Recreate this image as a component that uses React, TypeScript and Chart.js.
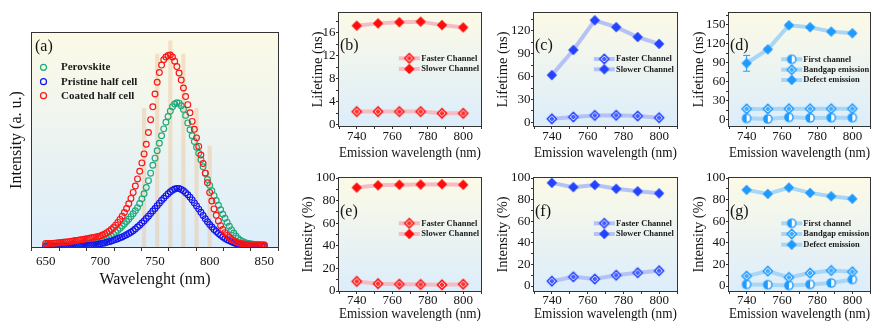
import React, { useEffect, useRef } from 'react';
import { Chart, registerables } from 'chart.js';

Chart.register(...registerables);

const SERIF = '"Liberation Serif", "Times New Roman", Times, serif';
const TEXT = '#141414';
const AXIS = '#333333';

// ---------- Panel (a): PL spectra ----------
const wavelengths = [
  650, 652, 654, 656, 658, 660, 662, 664, 666, 668,
  670, 672, 674, 676, 678, 680, 682, 684, 686, 688,
  690, 692, 694, 696, 698, 700, 702, 704, 706, 708,
  710, 712, 714, 716, 718, 720, 722, 724, 726, 728,
  730, 732, 734, 736, 738, 740, 742, 744, 746, 748,
  750, 752, 754, 756, 758, 760, 762, 764, 766, 768,
  770, 772, 774, 776, 778, 780, 782, 784, 786, 788,
  790, 792, 794, 796, 798, 800, 802, 804, 806, 808,
  810, 812, 814, 816, 818, 820, 822, 824, 826, 828,
  830, 832, 834, 836, 838, 840, 842, 844, 846, 848,
  850,
];
const perovskite = [
  0.7, 0.7, 0.7, 0.7, 0.8, 0.8, 0.8, 0.9, 0.9, 1.0,
  1.0, 1.1, 1.1, 1.2, 1.3, 1.4, 1.5, 1.6, 1.7, 1.8,
  1.9, 2.0, 2.1, 2.3, 2.4, 2.6, 2.9, 3.3, 3.8, 4.4,
  5.1, 5.9, 6.8, 7.8, 8.8, 9.8, 10.8, 11.9, 13.0, 14.2,
  15.5, 16.9, 18.4, 20.3, 22.5, 24.9, 27.8, 31.0, 34.5, 38.2,
  41.5, 45.0, 48.5, 52.0, 55.2, 58.3, 61.0, 63.5, 65.5, 66.8,
  67.4, 67.2, 66.0, 64.3, 61.5, 58.0, 54.8, 52.0, 49.3, 46.6,
  43.8, 40.8, 37.5, 34.5, 31.5, 28.8, 26.3, 24.0, 21.7, 19.5,
  17.4, 15.3, 13.4, 11.5, 9.7, 8.0, 6.5, 5.1, 4.0, 3.2,
  2.6, 2.1, 1.8, 1.6, 1.4, 1.3, 1.2, 1.1, 1.1, 1.0,
  1.0,
];
const pristineHalfCell = [
  0.2, 0.2, 0.2, 0.2, 0.2, 0.2, 0.3, 0.3, 0.3, 0.3,
  0.4, 0.4, 0.4, 0.5, 0.5, 0.5, 0.6, 0.6, 0.7, 0.7,
  0.8, 0.9, 1.0, 1.1, 1.3, 1.5, 1.7, 1.9, 2.2, 2.5,
  2.8, 3.1, 3.5, 3.9, 4.3, 4.7, 5.2, 5.7, 6.3, 6.9,
  7.6, 8.4, 9.3, 10.2, 11.2, 12.2, 13.3, 14.4, 15.6, 16.8,
  18.0, 19.3, 20.5, 21.7, 22.8, 23.9, 24.9, 25.8, 26.5, 27.1,
  27.4, 27.3, 26.9, 26.3, 25.4, 24.4, 23.3, 22.0, 20.6, 19.2,
  17.7, 16.2, 14.7, 13.2, 11.8, 10.5, 9.3, 8.2, 7.2, 6.3,
  5.5, 4.7, 4.0, 3.4, 2.9, 2.4, 2.0, 1.6, 1.3, 1.1,
  0.9, 0.8, 0.7, 0.6, 0.5, 0.5, 0.4, 0.4, 0.4, 0.3,
  0.3,
];
const coatedHalfCell = [
  1.6, 1.6, 1.7, 1.7, 1.8, 1.9, 2.0, 2.1, 2.2, 2.3,
  2.4, 2.6, 2.7, 2.9, 3.0, 3.2, 3.4, 3.5, 3.7, 3.9,
  4.1, 4.3, 4.5, 4.7, 4.9, 5.2, 5.6, 6.1, 6.7, 7.4,
  8.2, 9.1, 10.2, 11.5, 12.9, 14.4, 16.1, 18.0, 20.2, 22.7,
  25.5, 28.5, 31.8, 35.4, 39.3, 43.5, 48.0, 53.5, 59.5, 65.5,
  71.5, 77.0, 81.5, 85.0, 87.5, 88.8, 89.5, 89.7, 88.8, 86.8,
  84.3, 81.3, 78.0, 74.3, 70.3, 66.5, 62.7, 58.7, 55.0, 51.0,
  47.0, 43.0, 39.0, 34.5, 30.0, 25.5, 21.5, 17.8, 14.8, 12.2,
  10.0, 8.2, 6.7, 5.4, 4.4, 3.5, 2.9, 2.4, 2.0, 1.7,
  1.5, 1.3, 1.2, 1.1, 1.0, 1.0, 1.0, 0.9, 0.9, 0.9,
  0.9,
];
const barWavelengths = [740, 752, 764, 776, 788, 800];
const barHeights = [64.8, 90.2, 96.3, 90.2, 64.8, 47.2];
const xTicksA = [650, 700, 750, 800, 850];
const legendA = ['Perovskite', 'Pristine half cell', 'Coated half cell'];

// ---------- Panels (b)-(g) ----------
const emissionWl = [740, 752, 764, 776, 788, 800];
const xTicksEmission = [740, 760, 780, 800];

const lifetimeFasterB = [2.3, 2.3, 2.3, 2.3, 2.0, 2.0];
const lifetimeSlowerB = [17.2, 17.6, 17.8, 17.9, 17.3, 16.9];

const lifetimeFasterC = [4.5, 7.0, 9.0, 9.2, 8.2, 6.0];
const lifetimeSlowerC = [62, 95, 134, 125, 112, 103];

const lifetimeFirstD = [2.6, 1.6, 4.2, 3.2, 3.7, 3.7];
const lifetimeBandgapD = [17.5, 17.5, 17.8, 17.8, 17.8, 17.8];
const lifetimeDefectD = [89.5, 111.5, 149.5, 146.5, 139.5, 137.0];
const lifetimeDefectErrD = [12.5, 2, 2, 2, 2, 2];

const intensityFasterE = [8.5, 6.5, 6.0, 5.8, 5.5, 6.0];
const intensitySlowerE = [91.5, 93.5, 94.0, 94.2, 94.5, 94.0];

const intensityFasterF = [4.5, 8.5, 6.5, 10.0, 12.3, 14.2];
const intensitySlowerF = [95.5, 91.5, 93.5, 90.0, 87.7, 85.8];

const intensityFirstG = [1.5, 1.2, 0.6, 1.5, 2.8, 6.1];
const intensityBandgapG = [9.2, 13.8, 8.0, 12.0, 14.4, 13.2];
const intensityDefectG = [89.0, 85.3, 91.1, 86.2, 83.1, 80.7];

// ---------- Styles ----------
const RED = '#ff0d0d';
const RED_LINE = '#f6bcc4';
const BLUE = '#2343ff';
const BLUE_LINE = '#b5c2f6';
const SKY = '#1f9bff';
const SKY_LINE = '#a8d6f6';
const A_GREEN = '#1ea97a';
const A_BLUE = '#1414ee';
const A_RED = '#ff1414';
const BAR_COLOR = 'rgba(236, 190, 145, 0.42)';

type MarkerKind = 'diamond' | 'hollowDiamond' | 'halfCircle';

function makeMarker(kind: MarkerKind, color: string): HTMLCanvasElement {
  const size = 14;
  const c = document.createElement('canvas');
  c.width = size;
  c.height = size;
  const ctx = c.getContext('2d') as CanvasRenderingContext2D;
  const cx = size / 2;
  const cy = size / 2;
  ctx.fillStyle = color;
  ctx.strokeStyle = color;
  if (kind === 'diamond') {
    const r = 5.2;
    ctx.beginPath();
    ctx.moveTo(cx, cy - r);
    ctx.lineTo(cx + r, cy);
    ctx.lineTo(cx, cy + r);
    ctx.lineTo(cx - r, cy);
    ctx.closePath();
    ctx.fill();
  } else if (kind === 'hollowDiamond') {
    const r = 4.6;
    ctx.beginPath();
    ctx.moveTo(cx, cy - r);
    ctx.lineTo(cx + r, cy);
    ctx.lineTo(cx, cy + r);
    ctx.lineTo(cx - r, cy);
    ctx.closePath();
    ctx.fillStyle = '#ffffff';
    ctx.fill();
    ctx.lineWidth = 1.5;
    ctx.stroke();
    ctx.lineWidth = 1;
    ctx.beginPath();
    ctx.arc(cx, cy, 1.5, 0, Math.PI * 2);
    ctx.stroke();
    ctx.beginPath();
    ctx.moveTo(cx - 2.2, cy);
    ctx.lineTo(cx + 2.2, cy);
    ctx.moveTo(cx, cy - 2.2);
    ctx.lineTo(cx, cy + 2.2);
    ctx.stroke();
  } else {
    const r = 4.8;
    ctx.beginPath();
    ctx.arc(cx, cy, r, 0, Math.PI * 2);
    ctx.fill();
    const ri = r - 1.4;
    ctx.fillStyle = '#ffffff';
    ctx.beginPath();
    ctx.moveTo(cx, cy - ri);
    ctx.arc(cx, cy, ri, -Math.PI / 2, Math.PI / 2);
    ctx.closePath();
    ctx.fill();
  }
  return c;
}

const bgPlugin = {
  id: 'panelBg',
  beforeDraw(chart: any) {
    const { ctx, chartArea: a } = chart;
    const g = ctx.createLinearGradient(0, a.top, 0, a.bottom);
    g.addColorStop(0, '#fcfae6');
    g.addColorStop(1, '#dcedfb');
    ctx.save();
    ctx.fillStyle = g;
    ctx.fillRect(a.left, a.top, a.right - a.left, a.bottom - a.top);
    ctx.restore();
  },
};

const framePlugin = {
  id: 'panelFrame',
  afterDraw(chart: any) {
    const { ctx, chartArea: a } = chart;
    ctx.save();
    ctx.strokeStyle = AXIS;
    ctx.lineWidth = 1;
    ctx.strokeRect(a.left - 0.5, a.top - 0.5, a.right - a.left + 1, a.bottom - a.top + 1);
    ctx.restore();
  },
};

interface Box { left: number; top: number; width: number; height: number }
interface Area { l: number; t: number; r: number; b: number }

// ---------- Panel (a) config ----------
const boxA: Box = { left: 0, top: 0, width: 292, height: 300 };
const areaA: Area = { l: 32, t: 33, r: 278, b: 247 };

function configA(): any {
  const box = boxA;
  const area = areaA;
  const spectra = [
    { label: legendA[0], values: perovskite, color: A_GREEN, order: 3 },
    { label: legendA[1], values: pristineHalfCell, color: A_BLUE, order: 2 },
    { label: legendA[2], values: coatedHalfCell, color: A_RED, order: 1 },
  ];
  const legendPlugin = {
    id: 'legendA',
    afterDraw(chart: any) {
      const ctx = chart.ctx;
      ctx.save();
      const ys = [67.3, 81.7, 95.7];
      spectra.forEach((s, i) => {
        ctx.strokeStyle = s.color;
        ctx.lineWidth = 1.2;
        ctx.beginPath();
        ctx.arc(43.5 - box.left, ys[i] - box.top, 3, 0, Math.PI * 2);
        ctx.stroke();
        ctx.fillStyle = '#1a1a1a';
        ctx.font = `bold 11px ${SERIF}`;
        ctx.textBaseline = 'middle';
        ctx.textAlign = 'left';
        ctx.fillText(s.label, 61 - box.left, ys[i] - box.top);
      });
      ctx.font = `16px ${SERIF}`;
      ctx.fillStyle = TEXT;
      ctx.textBaseline = 'middle';
      ctx.fillText('(a)', 35 - box.left, 47 - box.top);
      ctx.restore();
    },
  };
  return {
    type: 'line',
    data: {
      datasets: [
        ...spectra.map((s) => ({
          type: 'line',
          label: s.label,
          data: wavelengths.map((x, i) => ({ x, y: s.values[i] })),
          showLine: false,
          pointRadius: 2.9,
          pointHoverRadius: 2.9,
          pointBorderWidth: 1.15,
          pointBorderColor: s.color,
          pointBackgroundColor: 'rgba(0,0,0,0)',
          borderColor: s.color,
          order: s.order,
        })),
        {
          type: 'bar',
          label: 'bars',
          data: barWavelengths.map((x, i) => ({ x, y: barHeights[i] })),
          backgroundColor: BAR_COLOR,
          borderWidth: 0,
          barThickness: 3.5,
          order: 10,
        },
      ],
    },
    options: {
      animation: false,
      responsive: false,
      devicePixelRatio: 1,
      events: [],
      layout: { padding: { left: 0, top: area.t - box.top, right: box.left + box.width - area.r, bottom: 0 } },
      plugins: { legend: { display: false }, tooltip: { enabled: false } },
      scales: {
        x: {
          type: 'linear',
          min: 650,
          max: 850,
          afterFit: (s: any) => { s.height = box.top + box.height - area.b; },
          ticks: {
            stepSize: 25, autoSkip: false, maxRotation: 0, includeBounds: false, maxTicksLimit: 50,
            padding: 4, color: TEXT, font: { family: SERIF, size: 13, lineHeight: 1 },
            callback: (v: number) => (xTicksA.includes(v) ? String(v) : ''),
          },
          grid: { drawOnChartArea: false, drawTicks: true, tickLength: 4, color: AXIS },
          border: { display: false },
          title: {
            display: true, text: 'Wavelenght (nm)', color: TEXT,
            font: { family: SERIF, size: 16, lineHeight: 1 },
            padding: { top: 0, bottom: box.top + box.height - 280 - 8 },
          },
        },
        y: {
          type: 'linear',
          min: 0,
          max: 100,
          afterFit: (s: any) => { s.width = area.l - box.left; },
          ticks: { display: false },
          grid: { display: false },
          border: { display: false },
          title: {
            display: true, text: 'Intensity (a. u.)', color: TEXT,
            font: { family: SERIF, size: 16, lineHeight: 1 },
            padding: { top: 17 - box.left - 8, bottom: 0 },
          },
        },
      },
    },
    plugins: [bgPlugin, framePlugin, legendPlugin],
  };
}

// ---------- Panels (b)-(g) ----------
interface PanelSeries { label: string; values: number[]; marker: MarkerKind }
interface PanelSpec {
  box: Box;
  area: Area;
  yMin: number; yMax: number; yMinor: number; yMajor: number;
  yTitle: string; yTitleX: number; xTitleY: number; xTickPad: number;
  color: string; lineColor: string;
  series: PanelSeries[];
  legendX: number; legendTextX: number; legendY: number[];
  tag: string; tagX: number; tagY: number;
  errors?: { series: number; values: number[] };
}

const panels: PanelSpec[] = [
  {
    box: { left: 296, top: 0, width: 194, height: 162 },
    area: { l: 339, t: 13, r: 483, b: 126 },
    yMin: -0.2, yMax: 19.4, yMinor: 2, yMajor: 4,
    yTitle: 'Lifetime (ns)', yTitleX: 318, xTitleY: 153.3, xTickPad: 1,
    color: RED, lineColor: RED_LINE,
    series: [
      { label: 'Faster Channel', values: lifetimeFasterB, marker: 'hollowDiamond' },
      { label: 'Slower Channel', values: lifetimeSlowerB, marker: 'diamond' },
    ],
    legendX: 409.3, legendTextX: 421.3, legendY: [58.3, 69],
    tag: '(b)', tagX: 340, tagY: 45.5,
  },
  {
    box: { left: 490, top: 0, width: 196, height: 162 },
    area: { l: 534, t: 13, r: 678, b: 126 },
    yMin: -4.9, yMax: 143.6, yMinor: 15, yMajor: 30,
    yTitle: 'Lifetime (ns)', yTitleX: 503, xTitleY: 153.3, xTickPad: 1,
    color: BLUE, lineColor: BLUE_LINE,
    series: [
      { label: 'Faster Channel', values: lifetimeFasterC, marker: 'hollowDiamond' },
      { label: 'Slower Channel', values: lifetimeSlowerC, marker: 'diamond' },
    ],
    legendX: 604.3, legendTextX: 616, legendY: [59, 69.3],
    tag: '(c)', tagX: 535, tagY: 45.5,
  },
  {
    box: { left: 686, top: 0, width: 193, height: 162 },
    area: { l: 729, t: 13, r: 874, b: 126 },
    yMin: -9.5, yMax: 168.9, yMinor: 15, yMajor: 30,
    yTitle: 'Lifetime (ns)', yTitleX: 699, xTitleY: 153.3, xTickPad: 1,
    color: SKY, lineColor: SKY_LINE,
    series: [
      { label: 'First channel', values: lifetimeFirstD, marker: 'halfCircle' },
      { label: 'Bandgap emission', values: lifetimeBandgapD, marker: 'hollowDiamond' },
      { label: 'Defect emission', values: lifetimeDefectD, marker: 'diamond' },
    ],
    legendX: 791.7, legendTextX: 803.3, legendY: [59.3, 69.7, 80],
    tag: '(d)', tagX: 730, tagY: 45.5,
    errors: { series: 2, values: lifetimeDefectErrD },
  },
  {
    box: { left: 296, top: 162, width: 194, height: 160 },
    area: { l: 339, t: 178, r: 483, b: 291 },
    yMin: 0, yMax: 100, yMinor: 10, yMajor: 20,
    yTitle: 'Intensity (%)', yTitleX: 308, xTitleY: 314.5, xTickPad: 0,
    color: RED, lineColor: RED_LINE,
    series: [
      { label: 'Faster Channel', values: intensityFasterE, marker: 'hollowDiamond' },
      { label: 'Slower Channel', values: intensitySlowerE, marker: 'diamond' },
    ],
    legendX: 409.3, legendTextX: 421.3, legendY: [223.3, 234],
    tag: '(e)', tagX: 340, tagY: 211.7,
  },
  {
    box: { left: 490, top: 162, width: 196, height: 160 },
    area: { l: 534, t: 178, r: 678, b: 291 },
    yMin: -4.6, yMax: 100, yMinor: 10, yMajor: 20,
    yTitle: 'Intensity (%)', yTitleX: 503, xTitleY: 314.5, xTickPad: 0,
    color: BLUE, lineColor: BLUE_LINE,
    series: [
      { label: 'Faster Channel', values: intensityFasterF, marker: 'hollowDiamond' },
      { label: 'Slower Channel', values: intensitySlowerF, marker: 'diamond' },
    ],
    legendX: 604.3, legendTextX: 616, legendY: [223.3, 234],
    tag: '(f)', tagX: 535, tagY: 211.7,
  },
  {
    box: { left: 686, top: 162, width: 193, height: 160 },
    area: { l: 729, t: 178, r: 874, b: 291 },
    yMin: -4.6, yMax: 100, yMinor: 10, yMajor: 20,
    yTitle: 'Intensity (%)', yTitleX: 699, xTitleY: 314.5, xTickPad: 0,
    color: SKY, lineColor: SKY_LINE,
    series: [
      { label: 'First channel', values: intensityFirstG, marker: 'halfCircle' },
      { label: 'Bandgap emission', values: intensityBandgapG, marker: 'hollowDiamond' },
      { label: 'Defect emission', values: intensityDefectG, marker: 'diamond' },
    ],
    legendX: 791.7, legendTextX: 803.3, legendY: [223.3, 234, 244.7],
    tag: '(g)', tagX: 730, tagY: 211.7,
  },
];

function isMultiple(v: number, step: number): boolean {
  const q = v / step;
  return Math.abs(q - Math.round(q)) < 1e-6;
}

function panelConfig(p: PanelSpec): any {
  const { box, area } = p;
  const markers = p.series.map((s) => makeMarker(s.marker, p.color));
  const legendPlugin = {
    id: 'panelLegend',
    afterDraw(chart: any) {
      const ctx = chart.ctx;
      ctx.save();
      p.series.forEach((s, i) => {
        const x = p.legendX - box.left;
        const y = p.legendY[i] - box.top;
        ctx.strokeStyle = p.lineColor;
        ctx.lineWidth = 4;
        ctx.beginPath();
        ctx.moveTo(x - 10.5, y);
        ctx.lineTo(x + 10.5, y);
        ctx.stroke();
        const m = markers[i];
        ctx.drawImage(m, x - m.width / 2, y - m.height / 2);
        ctx.fillStyle = '#1a1a1a';
        ctx.font = `bold 8.5px ${SERIF}`;
        ctx.textBaseline = 'middle';
        ctx.textAlign = 'left';
        ctx.fillText(s.label, p.legendTextX - box.left, y);
      });
      ctx.font = `16px ${SERIF}`;
      ctx.fillStyle = TEXT;
      ctx.textBaseline = 'middle';
      ctx.textAlign = 'left';
      ctx.fillText(p.tag, p.tagX - box.left, p.tagY - box.top);
      ctx.restore();
    },
  };
  const errPlugin = {
    id: 'errorBars',
    beforeDatasetsDraw(chart: any) {
      if (!p.errors) return;
      const { ctx } = chart;
      const xs = chart.scales.x;
      const ys = chart.scales.y;
      const vals = p.series[p.errors.series].values;
      ctx.save();
      ctx.strokeStyle = p.color;
      ctx.lineWidth = 1;
      p.errors.values.forEach((e, j) => {
        const px = xs.getPixelForValue(emissionWl[j]);
        const y1 = ys.getPixelForValue(vals[j] - e);
        const y2 = ys.getPixelForValue(vals[j] + e);
        ctx.beginPath();
        ctx.moveTo(px, y1);
        ctx.lineTo(px, y2);
        ctx.moveTo(px - 3.5, y1);
        ctx.lineTo(px + 3.5, y1);
        ctx.moveTo(px - 3.5, y2);
        ctx.lineTo(px + 3.5, y2);
        ctx.stroke();
      });
      ctx.restore();
    },
  };
  return {
    type: 'line',
    data: {
      datasets: p.series.map((s, i) => ({
        label: s.label,
        data: emissionWl.map((x, j) => ({ x, y: s.values[j] })),
        borderColor: p.lineColor,
        backgroundColor: p.lineColor,
        borderWidth: 4,
        pointStyle: markers[i],
        pointRadius: 5,
        pointHoverRadius: 5,
        tension: 0,
        fill: false,
        clip: false,
        order: p.series.length - i,
      })),
    },
    options: {
      animation: false,
      responsive: false,
      devicePixelRatio: 1,
      events: [],
      layout: { padding: { left: 0, top: area.t - box.top, right: box.left + box.width - area.r, bottom: 0 } },
      plugins: { legend: { display: false }, tooltip: { enabled: false } },
      scales: {
        x: {
          type: 'linear',
          min: 730,
          max: 810,
          afterFit: (s: any) => { s.height = box.top + box.height - area.b; },
          ticks: {
            stepSize: 10, autoSkip: false, maxRotation: 0, includeBounds: false, maxTicksLimit: 50,
            padding: p.xTickPad, color: TEXT, font: { family: SERIF, size: 13, lineHeight: 1 },
            callback: (v: number) => (xTicksEmission.includes(v) ? String(v) : ''),
          },
          grid: { drawOnChartArea: false, drawTicks: true, tickLength: 3, color: AXIS },
          border: { display: false },
          title: {
            display: true, text: 'Emission wavelength (nm)', color: TEXT,
            font: { family: SERIF, size: 15.5, lineHeight: 1 },
            padding: { top: 0, bottom: Math.max(0, box.top + box.height - p.xTitleY - 7.75) },
          },
        },
        y: {
          type: 'linear',
          min: p.yMin,
          max: p.yMax,
          afterFit: (s: any) => { s.width = area.l - box.left; },
          ticks: {
            stepSize: p.yMinor, autoSkip: false, includeBounds: false, maxTicksLimit: 50,
            padding: 0.5, color: TEXT, font: { family: SERIF, size: 13, lineHeight: 1 },
            callback: (v: number) => (isMultiple(v, p.yMajor) ? String(v) : ''),
          },
          grid: { drawOnChartArea: false, drawTicks: true, tickLength: 3, color: AXIS },
          border: { display: false },
          title: {
            display: true, text: p.yTitle, color: TEXT,
            font: { family: SERIF, size: 14.5, lineHeight: 1 },
            padding: { top: Math.max(0, p.yTitleX - box.left - 7.25), bottom: 0 },
          },
        },
      },
    },
    plugins: [bgPlugin, errPlugin, framePlugin, legendPlugin],
  };
}

export default function App() {
  const refs = useRef<(HTMLCanvasElement | null)[]>([]);
  const boxes: Box[] = [boxA, ...panels.map((p) => p.box)];

  useEffect(() => {
    const charts: Chart[] = [];
    const cA = refs.current[0];
    if (cA) charts.push(new Chart(cA, configA()));
    panels.forEach((p, i) => {
      const c = refs.current[i + 1];
      if (c) charts.push(new Chart(c, panelConfig(p)));
    });
    return () => {
      charts.forEach((c) => c.destroy());
    };
  }, []);

  return (
    <div
      style={{
        position: 'fixed', left: 0, top: 0, width: 879, height: 322,
        background: '#ffffff', overflow: 'hidden',
      }}
    >
      {boxes.map((b, i) => (
        <canvas
          key={i}
          ref={(el) => { refs.current[i] = el; }}
          width={b.width}
          height={b.height}
          style={{ position: 'absolute', left: b.left, top: b.top, width: b.width, height: b.height }}
        />
      ))}
    </div>
  );
}
